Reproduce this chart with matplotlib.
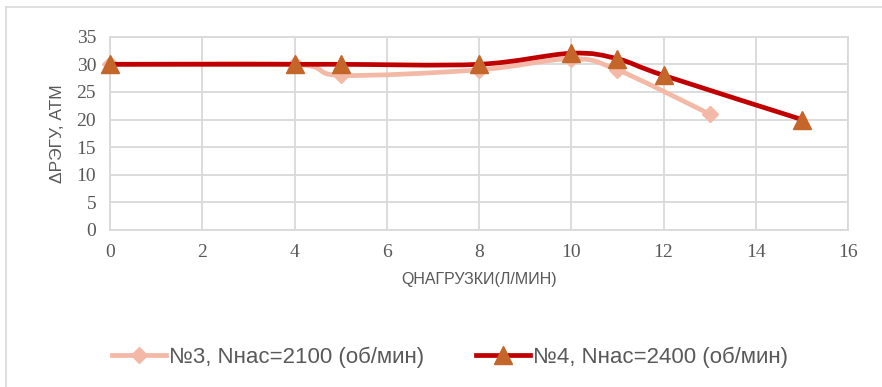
import matplotlib
matplotlib.use("Agg")
import matplotlib.pyplot as plt
from matplotlib.path import Path
from matplotlib.patches import PathPatch
from matplotlib.lines import Line2D
from matplotlib import font_manager

# Data
q_pump3 = [0, 4, 5, 8, 10, 11, 13]
dp_pump3 = [30, 30, 28, 29, 31, 29, 21]
q_pump4 = [0, 4, 5, 8, 10, 11, 12, 15]
dp_pump4 = [30, 30, 30, 30, 32, 31, 28, 20]
label3 = "№3, Nнас=2100 (об/мин)"
label4 = "№4, Nнас=2400 (об/мин)"
x_ticks = [0, 2, 4, 6, 8, 10, 12, 14, 16]
y_ticks = [0, 5, 10, 15, 20, 25, 30, 35]

installed = {f.name for f in font_manager.fontManager.ttflist}
narrow = "Liberation Sans Narrow" if "Liberation Sans Narrow" in installed else "Liberation Sans"
serif = "Liberation Serif"

text_gray = "#595959"
grid_gray = "#d9d9d9"
c3_line = "#f4b9a6"
c4_line = "#c00000"
c4_marker = "#c4652a"


def smooth_path(xs, ys):
    """Cubic Bezier path through the points (Catmull-Rom style control points)."""
    pts = list(zip(xs, ys))
    n = len(pts)
    verts = [pts[0]]
    codes = [Path.MOVETO]
    for i in range(n - 1):
        p0 = pts[i - 1] if i > 0 else pts[i]
        p1 = pts[i]
        p2 = pts[i + 1]
        p3 = pts[i + 2] if i + 2 < n else pts[i + 1]
        c1 = (p1[0] + (p2[0] - p0[0]) / 6, p1[1] + (p2[1] - p0[1]) / 6)
        c2 = (p2[0] - (p3[0] - p1[0]) / 6, p2[1] - (p3[1] - p1[1]) / 6)
        verts += [c1, c2, p2]
        codes += [Path.CURVE4] * 3
    return Path(verts, codes)


fig = plt.figure(figsize=(8.82, 3.87), dpi=100)
ax = fig.add_axes([110 / 882, 1 - 230 / 387, (848 - 110) / 882, (230 - 36.7) / 387])

# chart frame (top and left edges visible)
fig.add_artist(Line2D([6 / 882, 1], [1 - 7 / 387, 1 - 7 / 387], color=grid_gray, lw=1.2,
                      transform=fig.transFigure))
fig.add_artist(Line2D([6 / 882, 6 / 882], [0, 1 - 7 / 387], color=grid_gray, lw=1.2,
                      transform=fig.transFigure))

ax.set_xlim(0, 16)
ax.set_ylim(0, 35)
ax.set_xticks(x_ticks)
ax.set_yticks(y_ticks)
ax.grid(True, color=grid_gray, lw=1.3)
ax.set_axisbelow(True)
for s in ax.spines.values():
    s.set_color(grid_gray)
    s.set_linewidth(1.3)
ax.tick_params(length=0, labelcolor=text_gray, labelsize=14, pad=10)
for lab in ax.get_xticklabels() + ax.get_yticklabels():
    lab.set_fontfamily(serif)

# series 3
ax.add_patch(PathPatch(smooth_path(q_pump3, dp_pump3), fill=False, edgecolor=c3_line,
                       lw=3.4, capstyle="round", joinstyle="round", zorder=3))
ax.plot(q_pump3, dp_pump3, ls="none", marker="D", ms=8.5, color=c3_line, zorder=4,
        clip_on=False)
# series 4
ax.add_patch(PathPatch(smooth_path(q_pump4, dp_pump4), fill=False, edgecolor=c4_line,
                       lw=3.4, capstyle="round", joinstyle="round", zorder=5))
ax.plot(q_pump4, dp_pump4, ls="none", marker="^", ms=13, color=c4_marker, zorder=6,
        clip_on=False)

ax.set_ylabel("ΔРЭГУ, АТМ", fontfamily=narrow, fontsize=12.5, color=text_gray, labelpad=8)
ax.set_xlabel("QНАГРУЗКИ(Л/МИН)", fontfamily=narrow, fontsize=11.5, color=text_gray,
              labelpad=8)

h3 = Line2D([], [], color=c3_line, lw=3.4, marker="D", ms=8)
h4 = Line2D([], [], color=c4_line, lw=3.4, marker="^", ms=13, mfc=c4_marker, mec=c4_marker)
leg = fig.legend([h3, h4], [label3, label4], loc="center", bbox_to_anchor=(450 / 882, 1 - 357 / 387),
                 ncol=2, frameon=False, handlelength=2.45, handletextpad=0.15,
                 columnspacing=2.3, prop={"family": narrow, "size": 16})
for t in leg.get_texts():
    t.set_color(text_gray)

fig.savefig("out.png", dpi=100, facecolor="white")
